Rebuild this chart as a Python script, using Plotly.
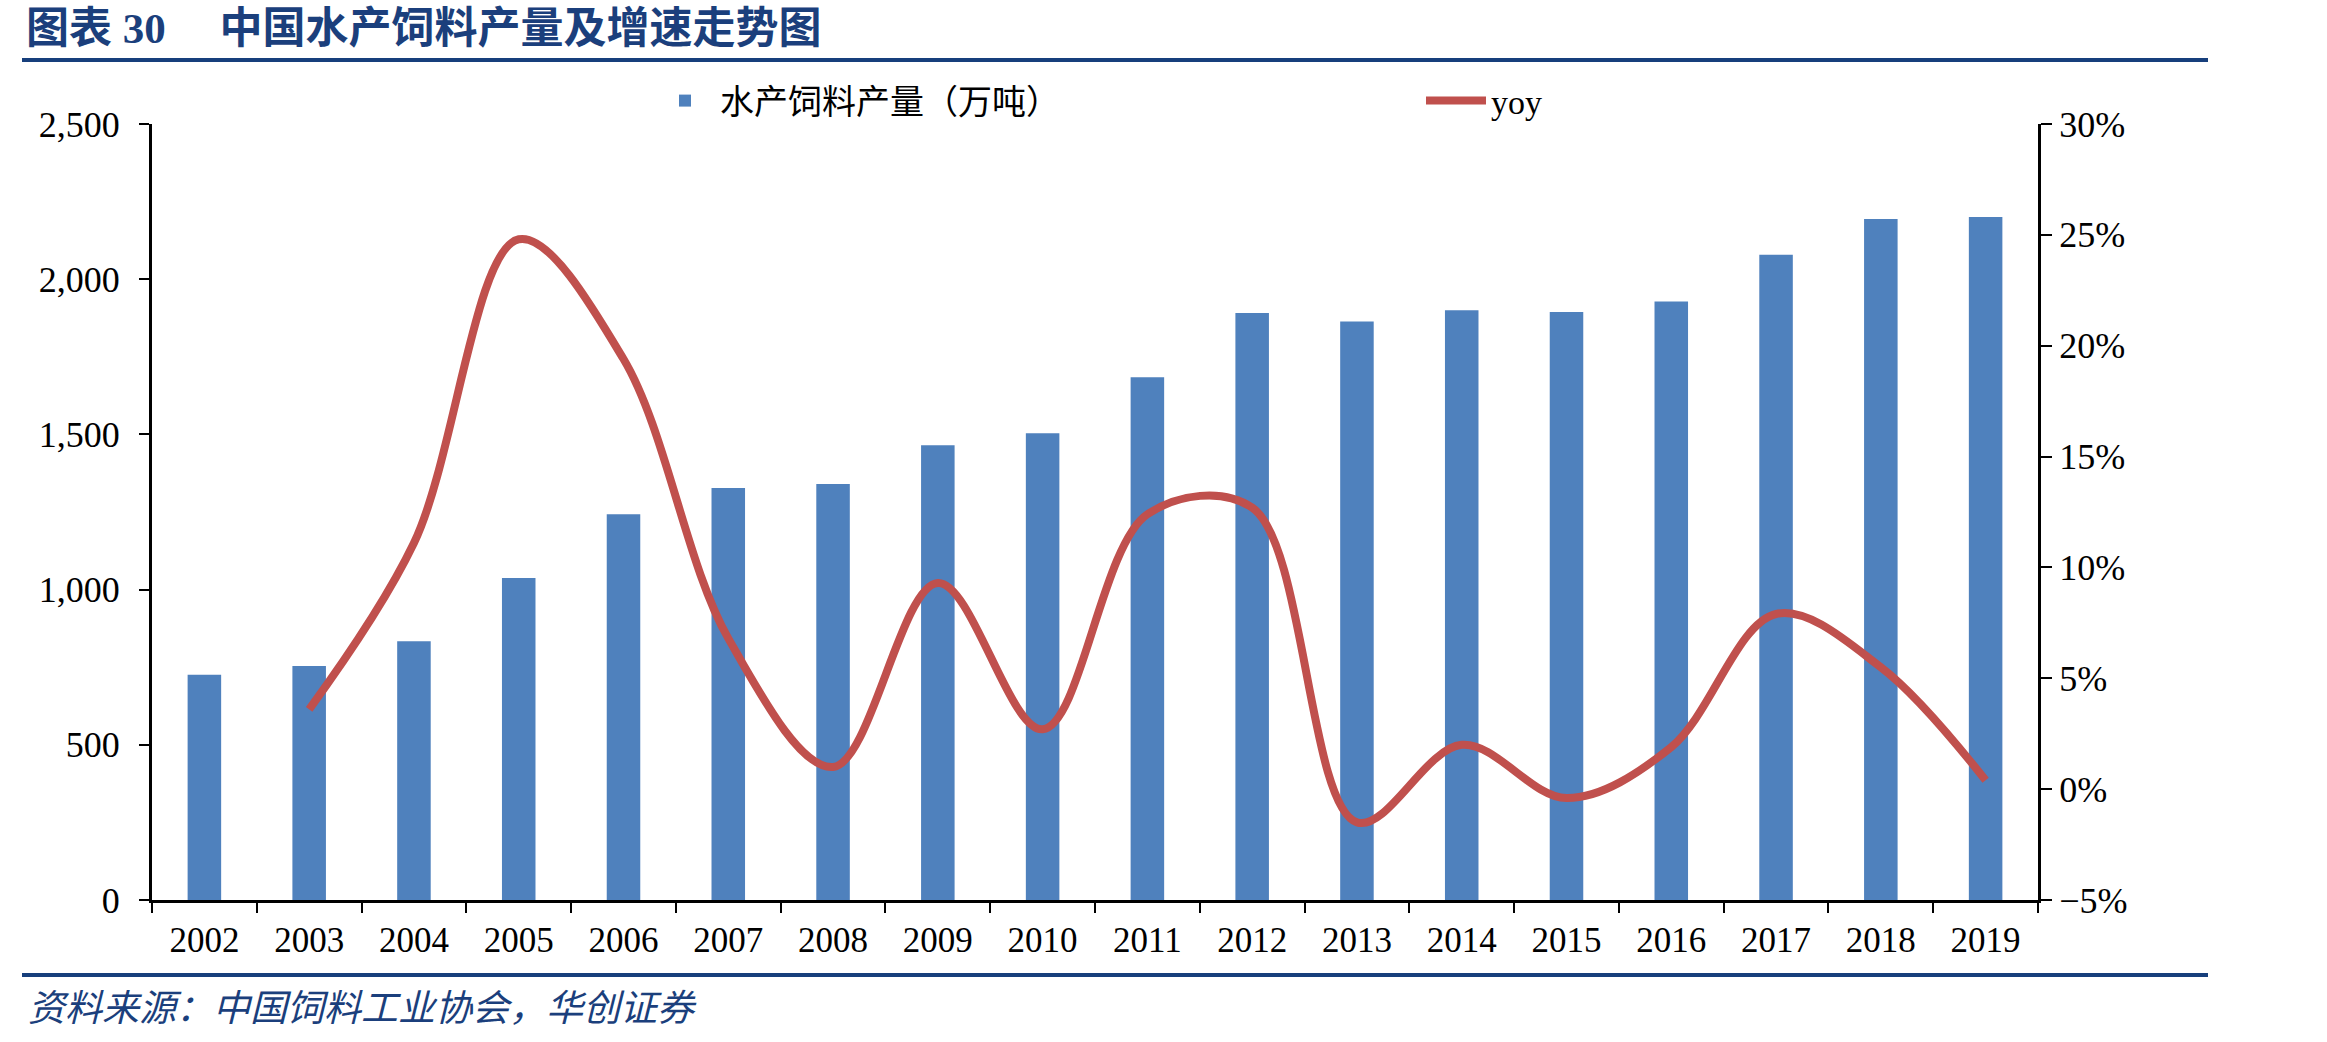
import plotly.graph_objects as go

years = ["2002", "2003", "2004", "2005", "2006", "2007", "2008", "2009", "2010",
         "2011", "2012", "2013", "2014", "2015", "2016", "2017", "2018", "2019"]
feed_output = [726, 754, 834, 1037, 1243, 1327, 1340, 1465, 1504,
               1684, 1891, 1864, 1900, 1894, 1928, 2079, 2194, 2200]
yoy_pct = [None, 3.6, 11.1, 24.8, 19.4, 6.8, 1.0, 9.3, 2.7,
           12.4, 12.7, -1.5, 2.0, -0.4, 1.9, 7.9, 5.5, 0.4]

bar_name = "水产饲料产量（万吨）"
line_name = "yoy"
title_text = "图表 30     中国水产饲料产量及增速走势图"
source_text = "资料来源：中国饲料工业协会，华创证券"

W, H = 2327, 1042
L, R, T, B = 152, 2038, 124, 900
pw, ph = R - L, B - T

def px_x(x):
    return (x - L) / pw

def px_y(y):
    return (B - y) / ph

serif = "Liberation Serif, Noto Sans CJK SC, serif"
dark_blue = "#1B3F7C"

fig = go.Figure()
fig.add_trace(go.Bar(
    x=years, y=feed_output, name=bar_name,
    marker=dict(color="#4F81BD", line=dict(width=0)),
    width=0.32, yaxis="y",
))
fig.add_trace(go.Scatter(
    x=years, y=yoy_pct, name=line_name, mode="lines",
    line=dict(color="#C0504D", width=8, shape="spline", smoothing=1),
    yaxis="y2",
))

fig.update_layout(
    width=W, height=H,
    margin=dict(l=L, r=W - R, t=T, b=H - B),
    paper_bgcolor="white", plot_bgcolor="white",
    font=dict(family=serif, size=32, color="black"),
    showlegend=True,
    legend=dict(
        orientation="h", x=px_x(650), y=px_y(101), xanchor="left", yanchor="middle",
        entrywidth=696, entrywidthmode="pixels",
        font=dict(family=serif, size=34, color="black"),
        bgcolor="rgba(0,0,0,0)", itemwidth=60,
    ),
    xaxis=dict(
        type="category", showline=True, linecolor="black", linewidth=3,
        ticks="outside", tickson="boundaries", ticklen=10, tickwidth=2, tickcolor="black",
        tickfont=dict(family=serif, size=35), showgrid=False, zeroline=False,
        ticklabelstandoff=7,
    ),
    yaxis=dict(
        range=[0, 2500], dtick=500, tickformat=",", showline=True, linecolor="black",
        linewidth=3, ticks="outside", ticklen=10, tickwidth=2, tickcolor="black",
        showgrid=False, zeroline=False, tickfont=dict(family=serif, size=36),
        ticklabelstandoff=12,
    ),
    yaxis2=dict(
        range=[-5, 30], dtick=5, ticksuffix="%", overlaying="y", side="right",
        showline=True, linecolor="black", linewidth=3, ticks="outside", ticklen=11,
        tickwidth=2, tickcolor="black", showgrid=False, zeroline=False,
        tickfont=dict(family=serif, size=36),
    ),
    bargap=0.5,
)

# Title
fig.add_annotation(
    text="<b>" + title_text + "</b>", xref="paper", yref="paper",
    x=px_x(24), y=px_y(28), xanchor="left", yanchor="middle", showarrow=False,
    font=dict(family=serif, size=43, color=dark_blue),
)
# Source
fig.add_annotation(
    text=source_text, xref="paper", yref="paper",
    x=px_x(26), y=px_y(1008), xanchor="left", yanchor="middle", showarrow=False,
    font=dict(family=serif, size=37, color=dark_blue, style="italic"),
)
# Divider lines
for yy in (60, 975):
    fig.add_shape(type="line", xref="paper", yref="paper",
                  x0=px_x(22), x1=px_x(2208), y0=px_y(yy), y1=px_y(yy),
                  line=dict(color="#173F7C", width=4))

fig.write_html("out.html")
